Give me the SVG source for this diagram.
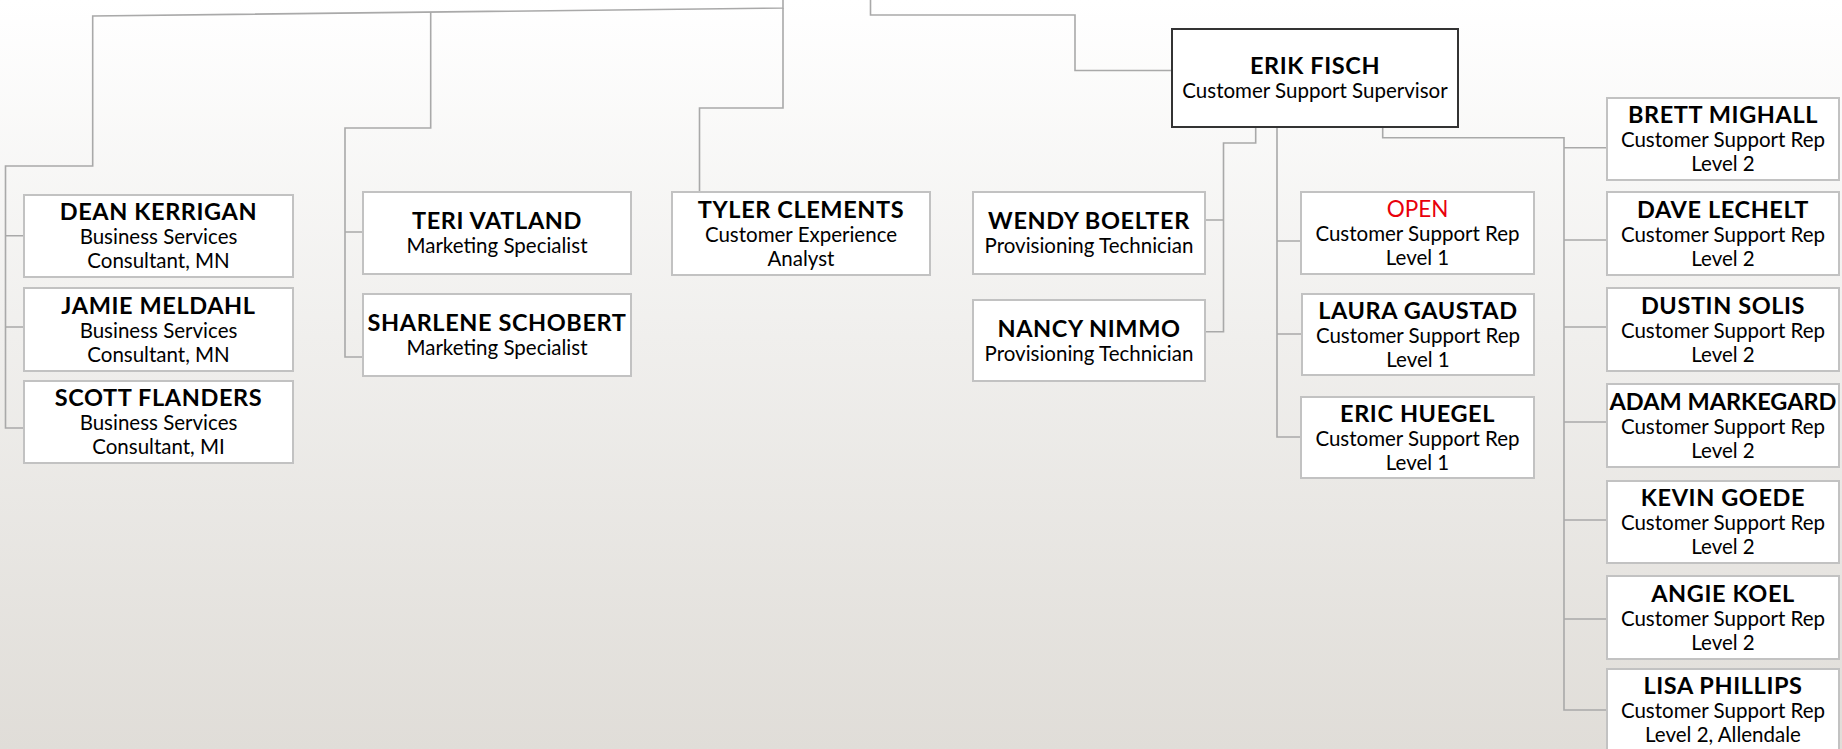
<svg xmlns="http://www.w3.org/2000/svg" width="1842" height="749" viewBox="0 0 1842 749">
<defs>
<linearGradient id="bg" x1="0" y1="0" x2="0" y2="1">
<stop offset="0" stop-color="#ffffff"/>
<stop offset="0.45" stop-color="#f0efed"/>
<stop offset="1" stop-color="#e0ddd8"/>
</linearGradient>
<style>
.box{fill:#ffffff;stroke:#c2c2c2;stroke-width:2}
.boss{fill:#ffffff;stroke:#333333;stroke-width:2}
.ln{fill:none;stroke:#a9a9a9;stroke-width:1.6}
text{font-family:Lato,"Liberation Sans",sans-serif;text-anchor:middle;fill:#000}
.n{font-weight:bold;font-size:23.5px;letter-spacing:0.6px}
.tight{letter-spacing:0}
.t{font-size:20.5px}
.open{font-size:22.5px;fill:#e8000b}
</style>
</defs>
<rect x="0" y="0" width="1842" height="749" fill="url(#bg)"/>
<g id="connectors" class="ln">
<path d="M783,0 V8 L92.7,16 V166 H5.5 V428 H24 M5.5,235.7 H24 M5.5,327 H24"/>
<path d="M430.7,12.1 V128 H345 V357 H363 M345,232 H363"/>
<path d="M783,8 V108 H699.5 V192"/>
<path d="M870.5,0 V15 H1075 V70.5 H1172"/>
<path d="M1255.7,127 V143 H1223.5 V331.7 H1205 M1223.5,220 H1205"/>
<path d="M1277,127 V437 H1301 M1277,241 H1301 M1277,334 H1302"/>
<path d="M1382.7,127 V137.7 H1564 V710 H1607 M1564,147.7 H1607 M1564,240 H1607 M1564,327 H1607 M1564,422 H1607 M1564,520 H1607 M1564,619 H1607"/>
</g>
<g id="dean-kerrigan"><rect class="box" x="24" y="195" width="269" height="82"/>
<text class="n" x="158.5" y="220">DEAN KERRIGAN</text><text class="t" x="158.5" y="244">Business Services</text><text class="t" x="158.5" y="268">Consultant, MN</text></g>
<g id="jamie-meldahl"><rect class="box" x="24" y="288" width="269" height="83"/>
<text class="n" x="158.5" y="313.5">JAMIE MELDAHL</text><text class="t" x="158.5" y="337.5">Business Services</text><text class="t" x="158.5" y="361.5">Consultant, MN</text></g>
<g id="scott-flanders"><rect class="box" x="24" y="381" width="269" height="82"/>
<text class="n" x="158.5" y="406">SCOTT FLANDERS</text><text class="t" x="158.5" y="430">Business Services</text><text class="t" x="158.5" y="454">Consultant, MI</text></g>
<g id="teri-vatland"><rect class="box" x="363" y="192" width="268" height="82"/>
<text class="n" x="497" y="229">TERI VATLAND</text><text class="t" x="497" y="253">Marketing Specialist</text></g>
<g id="sharlene-schobert"><rect class="box" x="363" y="294" width="268" height="82"/>
<text class="n" x="497" y="331">SHARLENE SCHOBERT</text><text class="t" x="497" y="355">Marketing Specialist</text></g>
<g id="tyler-clements"><rect class="box" x="672" y="192" width="258" height="83"/>
<text class="n" x="801" y="217.5">TYLER CLEMENTS</text><text class="t" x="801" y="241.5">Customer Experience</text><text class="t" x="801" y="265.5">Analyst</text></g>
<g id="erik-fisch"><rect class="boss" x="1172" y="29" width="286" height="98"/>
<text class="n" x="1315" y="74">ERIK FISCH</text><text class="t" x="1315" y="98">Customer Support Supervisor</text></g>
<g id="wendy-boelter"><rect class="box" x="973" y="192" width="232" height="82"/>
<text class="n" x="1089" y="229">WENDY BOELTER</text><text class="t" x="1089" y="253">Provisioning Technician</text></g>
<g id="nancy-nimmo"><rect class="box" x="973" y="300" width="232" height="81"/>
<text class="n" x="1089" y="336.5">NANCY NIMMO</text><text class="t" x="1089" y="360.5">Provisioning Technician</text></g>
<g id="open"><rect class="box" x="1301" y="192" width="233" height="82"/>
<text class="open" x="1417.5" y="217">OPEN</text><text class="t" x="1417.5" y="241">Customer Support Rep</text><text class="t" x="1417.5" y="265">Level 1</text></g>
<g id="laura-gaustad"><rect class="box" x="1302" y="294" width="232" height="81"/>
<text class="n" x="1418" y="318.5">LAURA GAUSTAD</text><text class="t" x="1418" y="342.5">Customer Support Rep</text><text class="t" x="1418" y="366.5">Level 1</text></g>
<g id="eric-huegel"><rect class="box" x="1301" y="397" width="233" height="81"/>
<text class="n" x="1417.5" y="421.5">ERIC HUEGEL</text><text class="t" x="1417.5" y="445.5">Customer Support Rep</text><text class="t" x="1417.5" y="469.5">Level 1</text></g>
<g id="brett-mighall"><rect class="box" x="1607" y="98" width="232" height="82"/>
<text class="n" x="1723" y="123">BRETT MIGHALL</text><text class="t" x="1723" y="147">Customer Support Rep</text><text class="t" x="1723" y="171">Level 2</text></g>
<g id="dave-lechelt"><rect class="box" x="1607" y="192" width="232" height="83"/>
<text class="n" x="1723" y="217.5">DAVE LECHELT</text><text class="t" x="1723" y="241.5">Customer Support Rep</text><text class="t" x="1723" y="265.5">Level 2</text></g>
<g id="dustin-solis"><rect class="box" x="1607" y="288" width="232" height="83"/>
<text class="n" x="1723" y="313.5">DUSTIN SOLIS</text><text class="t" x="1723" y="337.5">Customer Support Rep</text><text class="t" x="1723" y="361.5">Level 2</text></g>
<g id="adam-markegard"><rect class="box" x="1607" y="384" width="232" height="83"/>
<text class="n tight" x="1723" y="409.5">ADAM MARKEGARD</text><text class="t" x="1723" y="433.5">Customer Support Rep</text><text class="t" x="1723" y="457.5">Level 2</text></g>
<g id="kevin-goede"><rect class="box" x="1607" y="481" width="232" height="82"/>
<text class="n" x="1723" y="506">KEVIN GOEDE</text><text class="t" x="1723" y="530">Customer Support Rep</text><text class="t" x="1723" y="554">Level 2</text></g>
<g id="angie-koel"><rect class="box" x="1607" y="576" width="232" height="83"/>
<text class="n" x="1723" y="601.5">ANGIE KOEL</text><text class="t" x="1723" y="625.5">Customer Support Rep</text><text class="t" x="1723" y="649.5">Level 2</text></g>
<g id="lisa-phillips"><rect class="box" x="1607" y="669" width="232" height="83"/>
<text class="n" x="1723" y="694">LISA PHILLIPS</text><text class="t" x="1723" y="718">Customer Support Rep</text><text class="t" x="1723" y="742">Level 2, Allendale</text></g>
</svg>
